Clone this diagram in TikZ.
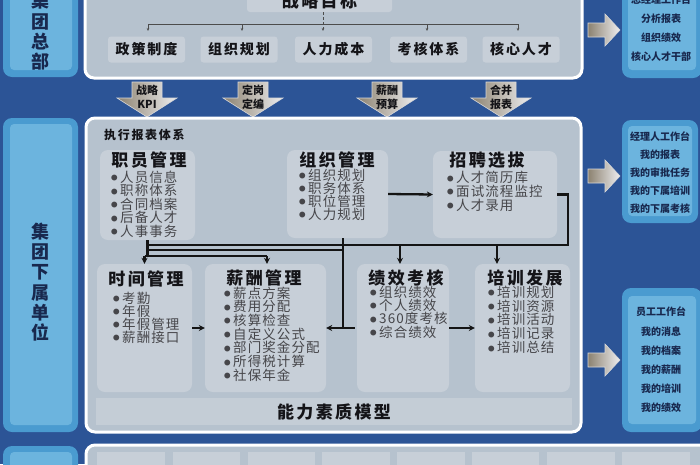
\documentclass[tikz,border=0pt]{standalone}
\usepackage{fontspec}
\setmainfont{Noto Sans CJK SC}
\newfontfamily\cjkls{Noto Sans CJK SC}[LetterSpace=14]
\newfontfamily\cjkit{Noto Sans CJK SC}[LetterSpace=8]
\newcommand{\bdot}{{\fontsize{6.5}{6.5}\selectfont\raisebox{1.6pt}{●}}\hspace{2.5pt}}
\usetikzlibrary{arrows.meta}
\definecolor{bgblue}{RGB}{44,84,150}
\definecolor{panelc}{RGB}{182,194,206}
\definecolor{boxc}{RGB}{199,207,216}
\definecolor{stripc}{RGB}{196,205,214}
\definecolor{sideA}{RGB}{74,155,208}
\definecolor{sideB}{RGB}{108,180,222}
\definecolor{sidetxt}{RGB}{24,40,78}
\definecolor{titlec}{RGB}{20,20,24}
\definecolor{itemc}{RGB}{70,70,74}
\definecolor{arrdark}{RGB}{140,130,112}
\definecolor{arrlight}{RGB}{238,238,240}
\begin{document}
\begin{tikzpicture}[x=1pt,y=-1pt,
  panel/.style={fill=panelc, draw=white, line width=3pt, rounded corners=9pt},
  ibox/.style={fill=boxc, rounded corners=8pt, inner sep=0pt},
  topitem/.style={fill=boxc, rounded corners=3pt, minimum width=77pt, minimum height=26pt, inner sep=0pt,
    font=\fontsize{14}{14}\selectfont\bfseries\cjkls, text=titlec},
  sideout/.style={fill=sideA, rounded corners=9pt},
  sidein/.style={fill=sideB, rounded corners=4pt},
  sidechar/.style={font=\fontsize{18}{20.3}\selectfont\bfseries, text=sidetxt, align=center, inner sep=0pt},
  sidelist/.style={font=\bfseries\fontsize{10}{#1}\selectfont, text=sidetxt, align=center, inner sep=0pt},
  ttl/.style={font=\fontsize{17}{17}\selectfont\bfseries\cjkls, text=titlec, inner sep=0pt},
  itm/.style={font=\fontsize{13.5}{14}\selectfont\cjkit, text=itemc, inner sep=0pt, anchor=west},
  conn/.style={line width=2.3pt, draw=black!92},
  tip/.style={-{Stealth[length=6pt,width=6pt]}},
  bar/.style={line width=0.9pt, draw=black!70},
  bartip/.style={-{Stealth[length=3pt,width=2.5pt]}},
  dshade/.style={left color=arrdark, right color=arrlight, draw=arrlight!80!gray, line width=0.6pt},
  dtxt/.style={font=\bfseries\fontsize{11}{14}\selectfont, text=titlec, align=center, inner sep=0pt}]
\useasboundingbox (0,0) rectangle (700,464);
\clip (0,0) rectangle (700,464);
\fill[bgblue] (0,0) rectangle (700,464);

% ---------- left column ----------
\path[sideout] (3,-20) rectangle (78,77);
\path[sidein] (10,-20) rectangle (72,70);
\node[sidechar] (hq) at (40,31.5) {集\\团\\总\\部};
\path[sideout] (3,118) rectangle (78,432);
\path[sidein] (10,124) rectangle (72,425);
\node[sidechar] (sub) at (40,282) {集\\团\\下\\属\\单\\位};
\path[sideout] (3,446) rectangle (78,490);
\path[sidein] (10,452) rectangle (72,490);

% ---------- right column ----------
\path[sideout] (622,-20) rectangle (702,78);
\path[sidein] (628,-20) rectangle (696,70);
\node[sidelist=19] (gm) at (661,28.5) {总经理工作台\\分析报表\\组织绩效\\核心人才干部};
\path[sideout] (622,120) rectangle (698,223);
\path[sidein] (628,126) rectangle (692,216);
\node[sidelist=17.8] (mgr) at (660,172.5) {经理人工作台\\我的报表\\我的审批任务\\我的下属培训\\我的下属考核};
\path[sideout] (622,288) rectangle (702,432);
\path[sidein] (628,296) rectangle (696,424);
\node[sidelist=19.2] (stf) at (661,360) {员工工作台\\我的消息\\我的档案\\我的薪酬\\我的培训\\我的绩效};

% right-pointing arrows
\foreach \y in {30,176,360}
  \path[dshade] (588,\y-7) -- (605,\y-7) -- (605,\y-16) -- (620,\y) -- (605,\y+16) -- (605,\y+7) -- (588,\y+7) -- cycle;

% ---------- top panel ----------
\path[panel] (85,-20) rectangle (582,78);
\node[fill=boxc, rounded corners=3pt, minimum width=145pt, minimum height=22pt, inner sep=0pt,
  font=\fontsize{17}{17}\selectfont\bfseries\cjkls, text=titlec] (goal) at (319.5,1) {战略目标};
\node[topitem] (z1) at (146.5,49.5) {政策制度};
\node[topitem] (z2) at (239,49.5) {组织规划};
\node[topitem] (z3) at (333.5,49.5) {人力成本};
\node[topitem] (z4) at (428.5,49.5) {考核体系};
\node[topitem] (z5) at (521,49.5) {核心人才};
\coordinate (barl) at (148,24);
\coordinate (barr) at (518,24);
\draw[bar] (barl) -- (barr);
\draw[bar, bartip] (barl) -- ++(0,7);
\draw[bar, bartip] (242,24) -- ++(0,7);
\draw[bar, bartip] (427,24) -- ++(0,7);
\draw[bar, bartip] (barr) -- ++(0,7);
\draw[bar, densely dashed, bartip] (goal.south -| 323,0) -- (323,31);

% down arrows
\foreach \x/\a/\b [count=\i] in {147/战略/KPI,253/定岗/定编,387/薪酬/预算,501/合并/报表}{
  \path[dshade] (\x-15,82) -- (\x+15,82) -- (\x+15,98) -- (\x+30,98) -- (\x,117) -- (\x-30,98) -- (\x-15,98) -- cycle;
  \node[dtxt] (da\i) at (\x,97) {\a\\\b};
}

% ---------- middle panel ----------
\path[panel] (86,118) rectangle (581,432);
\node[font=\fontsize{12}{12}\selectfont\bfseries\cjkls, text=titlec, anchor=west, inner sep=0pt] (exec) at (104,135) {执行报表体系};

\node[ibox, minimum width=95pt, minimum height=90pt] (emp) at (147.5,195) {};
\node[ibox, minimum width=101pt, minimum height=88pt] (org) at (337.5,194) {};
\node[ibox, minimum width=124pt, minimum height=87pt] (rec) at (495,194.5) {};
\node[ibox, minimum width=95pt, minimum height=128pt] (time) at (144.5,328) {};
\node[ibox, minimum width=121pt, minimum height=128pt] (sal) at (265.5,328) {};
\node[ibox, minimum width=92pt, minimum height=128pt] (perf) at (403,328) {};
\node[ibox, minimum width=95pt, minimum height=128pt] (train) at (522.5,328) {};
\node[fill=stripc, minimum width=476pt, minimum height=27pt, inner sep=0pt,
  font=\fontsize{17}{17}\selectfont\bfseries\cjkls, text=titlec] (model) at (334,411.5) {能力素质模型};

\node[ttl] (empT) at (149,160) {职员管理};
\node[ttl] (orgT) at (337,160) {组织管理};
\node[ttl] (recT) at (487,160) {招聘选拔};
\node[ttl] (timeT) at (146,279) {时间管理};
\node[ttl] (salT) at (264,278) {薪酬管理};
\node[ttl] (perfT) at (406,278) {绩效考核};
\node[ttl] (trainT) at (525,278) {培训发展};

\foreach \t [count=\i from 0] in {人员信息,职称体系,合同档案,后备人才,人事事务}
  \node[itm] (e\i) at (111,177+13.5*\i) {\bdot\t};
\foreach \t [count=\i from 0] in {组织规划,职务体系,职位管理,人力规划}
  \node[itm] (o\i) at (299,175+13*\i) {\bdot\t};
\foreach \t [count=\i from 0] in {人才简历库,面试流程监控,人才录用}
  \node[itm] (r\i) at (447,177.5+13.8*\i) {\bdot\t};
\foreach \t [count=\i from 0] in {考勤,年假,年假管理,薪酬接口}
  \node[itm] (t\i) at (113,298+13*\i) {\bdot\t};
\foreach \t [count=\i from 0] in {薪点方案,费用分配,核算检查,自定义公式,部门奖金分配,所得税计算,社保年金}
  \node[itm] (s\i) at (224,293+13.7*\i) {\bdot\t};
\foreach \t [count=\i from 0] in {组织绩效,个人绩效,360度考核,综合绩效}
  \node[itm] (p\i) at (370,292+13.3*\i) {\bdot\t};
\foreach \t [count=\i from 0] in {培训规划,培训资源,培训活动,培训记录,培训总结}
  \node[itm] (g\i) at (488,292+13.9*\i) {\bdot\t};

% connectors
\coordinate (yA) at (0,245);
\coordinate (yB) at (0,250);
\coordinate (yC) at (0,256);
\coordinate (orgx) at (343,0);
\coordinate (perfx) at (400,0);
\coordinate (trainx) at (497,0);
\coordinate (rightx) at (568,0);
\coordinate (salx) at (267,0);

\draw[conn, tip] (org.east) -- (rec.west);
\draw[conn] (rec.east) -- (rec.east -| rightx) -- (rightx |- yA) -- (emp.south |- yA);
\draw[conn, tip] (perfx |- yA) -- (perfx |- perf.north);
\draw[conn, tip] (trainx |- yA) -- (trainx |- train.north);
\draw[conn] (emp.south) -- (emp.south |- yC);
\draw[conn] (emp.south |- yB) -- (orgx |- yB);
\draw[conn] (time.north |- yC) -- (salx |- yC);
\draw[conn, tip] (time.north |- yC) -- (time.north);
\draw[conn, tip] (salx |- yC) -- (salx |- sal.north);
\draw[conn] (orgx |- org.south) -- (orgx |- sal.east);
\draw[conn, tip] (orgx |- sal.east) -- (sal.east);
\draw[conn] (orgx |- sal.east) -- ++(12,0);
\draw[conn, tip] (time.east) -- (sal.west);
\draw[conn, tip] (perf.east) -- (train.west);

% ---------- bottom strip ----------
\path[panel] (86,445) rectangle (720,500);
\foreach \a/\b [count=\i] in {97/165,173/240,248/315,322/390,397/465,472/539,547/615,622/690}
  \path[fill=boxc] (\a,452) rectangle (\b,480);
\end{tikzpicture}
\end{document}
